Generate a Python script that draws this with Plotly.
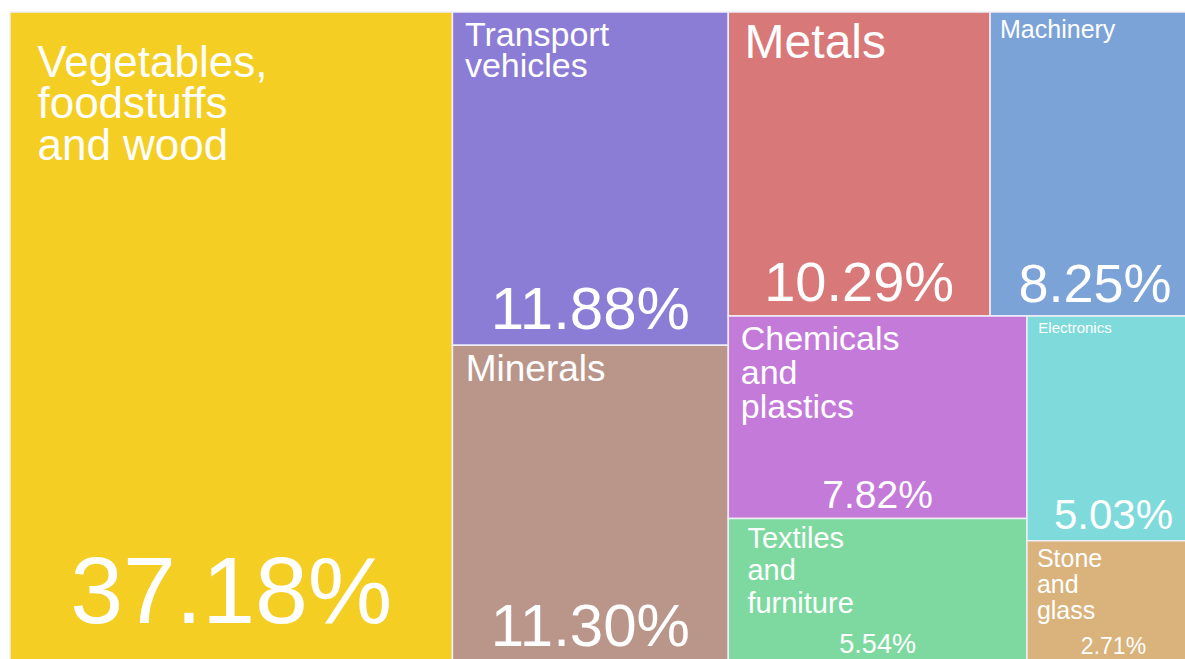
import plotly.graph_objects as go

# Export shares by product group (percent of total)
categories = [
    "Vegetables, foodstuffs and wood",
    "Transport vehicles",
    "Minerals",
    "Metals",
    "Machinery",
    "Chemicals and plastics",
    "Textiles and furniture",
    "Electronics",
    "Stone and glass",
]
shares = [37.18, 11.88, 11.30, 10.29, 8.25, 7.82, 5.54, 5.03, 2.71]

# Wrapped display names for the tiles
display_lines = [
    ["Vegetables,", "foodstuffs", "and wood"],
    ["Transport", "vehicles"],
    ["Minerals"],
    ["Metals"],
    ["Machinery"],
    ["Chemicals", "and", "plastics"],
    ["Textiles", "and", "furniture"],
    ["Electronics"],
    ["Stone", "and", "glass"],
]

colors = [
    "#F4CE23", "#8B7CD6", "#BA968A", "#D87878", "#7BA3D8",
    "#C47AD8", "#7ED9A0", "#7EDADB", "#D9B27C",
]

# Name typography: glyph size, line pitch (base size) and indent per tile
name_sizes = [44, 34, 37, 48, 25, 34, 29, 15, 25]
name_base = [32, 24, 37, 48, 25, 26, 25, 15, 20]
name_indent = [2, 1, 1, 1, 1, 1, 2, 2, 1]
name_lead = [22, 0, 0, 0, 0, 0, 0, 0, 0]      # small spacer line above the name

# Share typography: glyph size and base size (a larger base lifts the figure)
value_sizes = [95, 60, 60, 56, 54, 39, 27, 42, 23]
value_lift = [24, 0, 0, 0, 0, 0, 0, 0, 0]

NB = "\u00a0"


def name_html(lines, size, indent, lead):
    body = "<br>".join(
        f"<span style='font-size:{size}px'>{NB * indent}{line}</span>" for line in lines
    )
    if lead:
        body = f"<span style='font-size:{lead}px'>{NB}</span><br>" + body
    return body


def value_html(v, size, lift):
    txt = f"<span style='font-size:{size}px'>{v:.2f}%</span>"
    if lift:
        txt += f"<br>{NB}"
    return txt


name_text = [
    name_html(l, s, i, ld)
    for l, s, i, ld in zip(display_lines, name_sizes, name_indent, name_lead)
]
value_text = [value_html(v, s, lf) for v, s, lf in zip(shares, value_sizes, value_lift)]
value_base = [lf if lf else s for s, lf in zip(value_sizes, value_lift)]

FONT = "Liberation Sans, Arial, sans-serif"
ROOT = "All products"

# Single root node holding every product group
ids = [ROOT] + categories
parents = [""] + [ROOT] * len(categories)
values = [round(sum(shares), 2)] + shares

common = dict(
    ids=ids,
    labels=ids,
    parents=parents,
    values=values,
    branchvalues="total",
    sort=True,
    tiling=dict(packing="squarify", squarifyratio=1.1, pad=0),
    pathbar=dict(visible=False),
    domain=dict(x=[0, 1], y=[0, 1]),
)

# Coloured tiles with the group name in the top-left corner
fig = go.Figure()
fig.add_trace(go.Treemap(
    **common,
    text=[""] + name_text,
    texttemplate="%{text}",
    textposition="top left",
    textfont=dict(family=FONT, color="white", size=[10] + name_base),
    marker=dict(
        colors=["white"] + colors,
        line=dict(color=["white"] + ["#F0EEF8"] * len(categories), width=1.5),
        pad=dict(t=0, l=0, r=0, b=0),
    ),
    hoverinfo="skip",
))

# Transparent overlay carrying the share at the bottom of each tile
fig.add_trace(go.Treemap(
    **common,
    text=[""] + value_text,
    texttemplate="%{text}",
    textposition="bottom center",
    textfont=dict(family=FONT, color="white", size=[10] + value_base),
    marker=dict(
        colors=["rgba(0,0,0,0)"] * len(ids),
        line=dict(width=0),
        pad=dict(t=0, l=0, r=0, b=0),
    ),
    hovertemplate="%{label}: %{value:.2f}%<extra></extra>",
))

fig.update_layout(
    width=1200,
    height=662,
    margin=dict(l=10, r=0, t=12, b=0),
    paper_bgcolor="white",
    font=dict(family=FONT),
)

fig.write_html("out.html")
